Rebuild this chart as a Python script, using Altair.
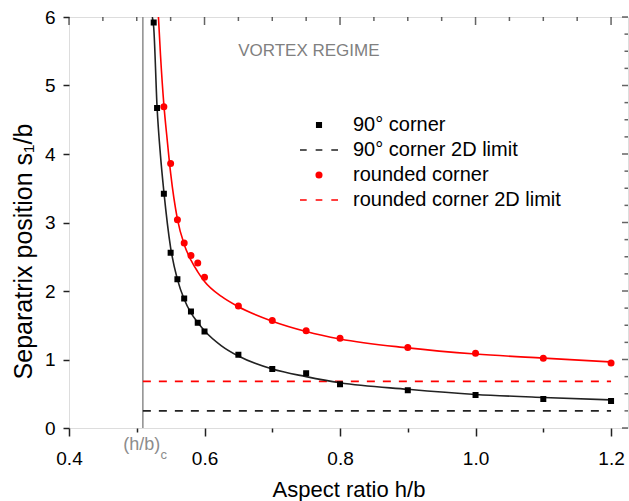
import altair as alt
import pandas as pd

# ---------------- data ----------------
sq_x = [0.525, 0.53, 0.54, 0.55, 0.56, 0.57, 0.58, 0.59, 0.60, 0.65, 0.70, 0.75, 0.80, 0.90, 1.00, 1.10, 1.20]
sq_y = [5.92, 4.67, 3.42, 2.56, 2.17, 1.89, 1.70, 1.535, 1.41, 1.07, 0.86, 0.80, 0.64, 0.55, 0.48, 0.425, 0.395]

rc_x = [0.54, 0.55, 0.56, 0.57, 0.58, 0.59, 0.60, 0.65, 0.70, 0.75, 0.80, 0.90, 1.00, 1.10, 1.20]
rc_y = [4.69, 3.86, 3.04, 2.70, 2.52, 2.41, 2.20, 1.78, 1.57, 1.42, 1.31, 1.175, 1.09, 1.02, 0.95]

fit_sq_x = [0.523, 0.525, 0.53, 0.535, 0.54, 0.55, 0.56, 0.57, 0.58, 0.59, 0.60, 0.625, 0.65, 0.70, 0.75, 0.80, 0.90, 1.00, 1.10, 1.20]
fit_sq_y = [6.0, 5.85, 4.68, 3.98, 3.45, 2.63, 2.17, 1.88, 1.68, 1.54, 1.42, 1.20, 1.05, 0.86, 0.75, 0.66, 0.565, 0.49, 0.445, 0.41]

fit_rc_x = [0.532, 0.535, 0.54, 0.545, 0.55, 0.56, 0.57, 0.58, 0.59, 0.60, 0.625, 0.65, 0.70, 0.75, 0.80, 0.90, 1.00, 1.10, 1.20]
fit_rc_y = [6.0, 5.45, 4.72, 4.2, 3.72, 3.05, 2.68, 2.45, 2.28, 2.14, 1.92, 1.77, 1.56, 1.41, 1.30, 1.17, 1.08, 1.02, 0.965]

limit_sq = 0.25
limit_rc = 0.68
hbc = 0.509          # critical aspect ratio (h/b)c
limit_end = 1.2

labels = ["90° corner", "90° corner 2D limit", "rounded corner", "rounded corner 2D limit"]

x_ticks = [0.4, 0.45, 0.5, 0.55, 0.6, 0.65, 0.7, 0.75, 0.8, 0.85, 0.9, 0.95, 1.0, 1.05, 1.1, 1.15, 1.2]
x_major = [0.4, 0.6, 0.8, 1.0, 1.2]
y_ticks = [0, 0.25, 0.5, 0.75, 1, 1.25, 1.5, 1.75, 2, 2.25, 2.5, 2.75, 3, 3.25, 3.5, 3.75,
           4, 4.25, 4.5, 4.75, 5, 5.25, 5.5, 5.75, 6]
y_major = [0, 1, 2, 3, 4, 5, 6]

# ---------------- styling ----------------
FONT = "Liberation Sans"
BLACK = "#000000"
RED = "#ff0000"
FRAME = "#222222"
W, H = 559, 411

sq_path = "M-0.45,-0.45H0.45V0.45H-0.45Z"
circ_path = "M-0.55,0A0.55,0.55,0,1,0,0.55,0A0.55,0.55,0,1,0,-0.55,0Z"
dash_path = "M-3.8,0H-2.46M-0.67,0H0.67M2.46,0H3.8"

pts_df = pd.DataFrame({
    "x": sq_x + rc_x,
    "y": sq_y + rc_y,
    "series": [labels[0]] * len(sq_x) + [labels[2]] * len(rc_x),
})
fit_df = pd.DataFrame({
    "x": fit_sq_x + fit_rc_x,
    "y": fit_sq_y + fit_rc_y,
    "series": [labels[0]] * len(fit_sq_x) + [labels[2]] * len(fit_rc_x),
})
lim_df = pd.DataFrame({
    "x": [hbc, hbc], "x2": [limit_end, limit_end],
    "y": [limit_sq, limit_rc], "series": [labels[1], labels[3]],
})
xt_df = pd.DataFrame({"v": x_ticks, "major": [v in x_major for v in x_ticks]})
yt_df = pd.DataFrame({"v": y_ticks, "major": [v in y_major for v in y_ticks]})

xscale = alt.Scale(domain=[0.4, 1.225], nice=False, zero=False)
yscale = alt.Scale(domain=[0, 6], nice=False, zero=False)

xmaj_test = "abs(datum.value*5 - round(datum.value*5)) < 0.001"
ymaj_test = "abs(datum.value - round(datum.value)) < 0.001"

xaxis = alt.Axis(
    values=x_ticks, domain=False, grid=False,
    tickSize={"condition": {"test": xmaj_test, "value": 8}, "value": 4},
    tickColor=FRAME, tickWidth=1.5,
    labelExpr=f"{xmaj_test} ? format(datum.value, '.1f') : ''",
    labelFont=FONT, labelFontSize=19, labelColor=BLACK, labelPadding=13,
    labelOverlap=False, labelFlush=False,
    title="Aspect ratio h/b", titleFont=FONT, titleFontSize=22, titleFontWeight="normal",
    titleColor=BLACK, titlePadding=11,
)
yaxis = alt.Axis(
    values=y_ticks, domain=False, grid=False,
    tickSize={"condition": {"test": ymaj_test, "value": 6}, "value": 3.5},
    tickColor=FRAME, tickWidth=1.5,
    labelExpr=f"{ymaj_test} ? format(datum.value, 'd') : ''",
    labelFont=FONT, labelFontSize=19, labelColor=BLACK, labelPadding=8,
    labelOverlap=False, labelFlush=False,
    title="Separatrix position s₁/b", titleFont=FONT, titleFontSize=25, titleFontWeight="normal",
    titleColor=BLACK, titleX=-46, titleY=234, titleAlign="center", titleBaseline="middle", titleAngle=270,
)

leg = alt.Legend(
    title=None, orient="none", legendX=240, legendY=98, padding=0,
    labelFont=FONT, labelFontSize=20, labelColor=BLACK, labelOffset=24, labelLimit=0,
    symbolSize=100, symbolStrokeWidth=1.6, rowPadding=5,
)

fit = alt.Chart(fit_df).mark_line(strokeWidth=1.6, interpolate="monotone", clip=True).encode(
    x=alt.X("x:Q", scale=xscale, axis=xaxis),
    y=alt.Y("y:Q", scale=yscale, axis=yaxis),
    color=alt.Color("series:N", scale=alt.Scale(domain=[labels[0], labels[2]], range=[BLACK, RED]), legend=None),
)

pts = alt.Chart(pts_df).mark_point(filled=True, size=100, strokeWidth=1.5, opacity=1, clip=True).encode(
    x=alt.X("x:Q", scale=xscale),
    y=alt.Y("y:Q", scale=yscale),
    fill=alt.Fill("series:N", scale=alt.Scale(domain=labels, range=[BLACK, FRAME, RED, RED]), legend=leg),
    stroke=alt.Stroke("series:N", scale=alt.Scale(domain=labels, range=[BLACK, FRAME, RED, RED]), legend=leg),
    shape=alt.Shape("series:N", scale=alt.Scale(domain=labels, range=[sq_path, dash_path, circ_path, dash_path]), legend=leg),
)

lims = alt.Chart(lim_df).mark_rule(strokeWidth=1.6, strokeDash=[8, 8]).encode(
    x=alt.X("x:Q", scale=xscale),
    x2="x2:Q",
    y=alt.Y("y:Q", scale=yscale),
    color=alt.Color("series:N", scale=alt.Scale(domain=[labels[1], labels[3]], range=[FRAME, RED]), legend=None),
)

vline = alt.Chart(pd.DataFrame({"x": [hbc]})).mark_rule(color="#8c8c8c", strokeWidth=1.5).encode(
    x=alt.X("x:Q", scale=xscale)
)

hbc_txt = alt.Chart(pd.DataFrame({"x": [hbc], "t": ["(h/b)"]})).mark_text(
    font=FONT, fontSize=18, color="#8c8c8c", align="center", baseline="middle", dx=-1
).encode(x=alt.X("x:Q", scale=xscale), y=alt.value(H + 17), text="t:N")
hbc_sub = alt.Chart(pd.DataFrame({"x": [hbc], "t": ["c"]})).mark_text(
    font=FONT, fontSize=13, color="#8c8c8c", align="center", baseline="middle", dx=21
).encode(x=alt.X("x:Q", scale=xscale), y=alt.value(H + 27), text="t:N")

regime = alt.Chart(pd.DataFrame({"x": [0.754], "y": [5.50], "t": ["VORTEX REGIME"]})).mark_text(
    font=FONT, fontSize=17, color="#808080", align="center", baseline="middle"
).encode(x=alt.X("x:Q", scale=xscale), y=alt.Y("y:Q", scale=yscale), text="t:N")

top_major = alt.Chart(xt_df[xt_df.major]).mark_tick(size=8, thickness=1.5, color=FRAME).encode(
    x=alt.X("v:Q", scale=xscale), y=alt.value(4))
top_minor = alt.Chart(xt_df[~xt_df.major]).mark_tick(size=4, thickness=1.5, color=FRAME).encode(
    x=alt.X("v:Q", scale=xscale), y=alt.value(2))
right_major = alt.Chart(yt_df[yt_df.major]).mark_tick(size=6, thickness=1.5, color=FRAME).encode(
    y=alt.Y("v:Q", scale=yscale), x=alt.value(W - 3))
right_minor = alt.Chart(yt_df[~yt_df.major]).mark_tick(size=3.5, thickness=1.5, color=FRAME).encode(
    y=alt.Y("v:Q", scale=yscale), x=alt.value(W - 1.75))

chart = alt.layer(
    vline, lims, fit, pts, hbc_txt, hbc_sub, regime, top_major, top_minor, right_major, right_minor
).properties(
    width=W, height=H,
    autosize=alt.AutoSizeParams(type="none"),
    padding={"left": 69, "top": 17, "right": 1, "bottom": 73},
).configure_view(
    stroke=FRAME, strokeWidth=1.5
).configure(background="white")

chart.save("out.html", embed_options={"renderer": "svg", "actions": False})
